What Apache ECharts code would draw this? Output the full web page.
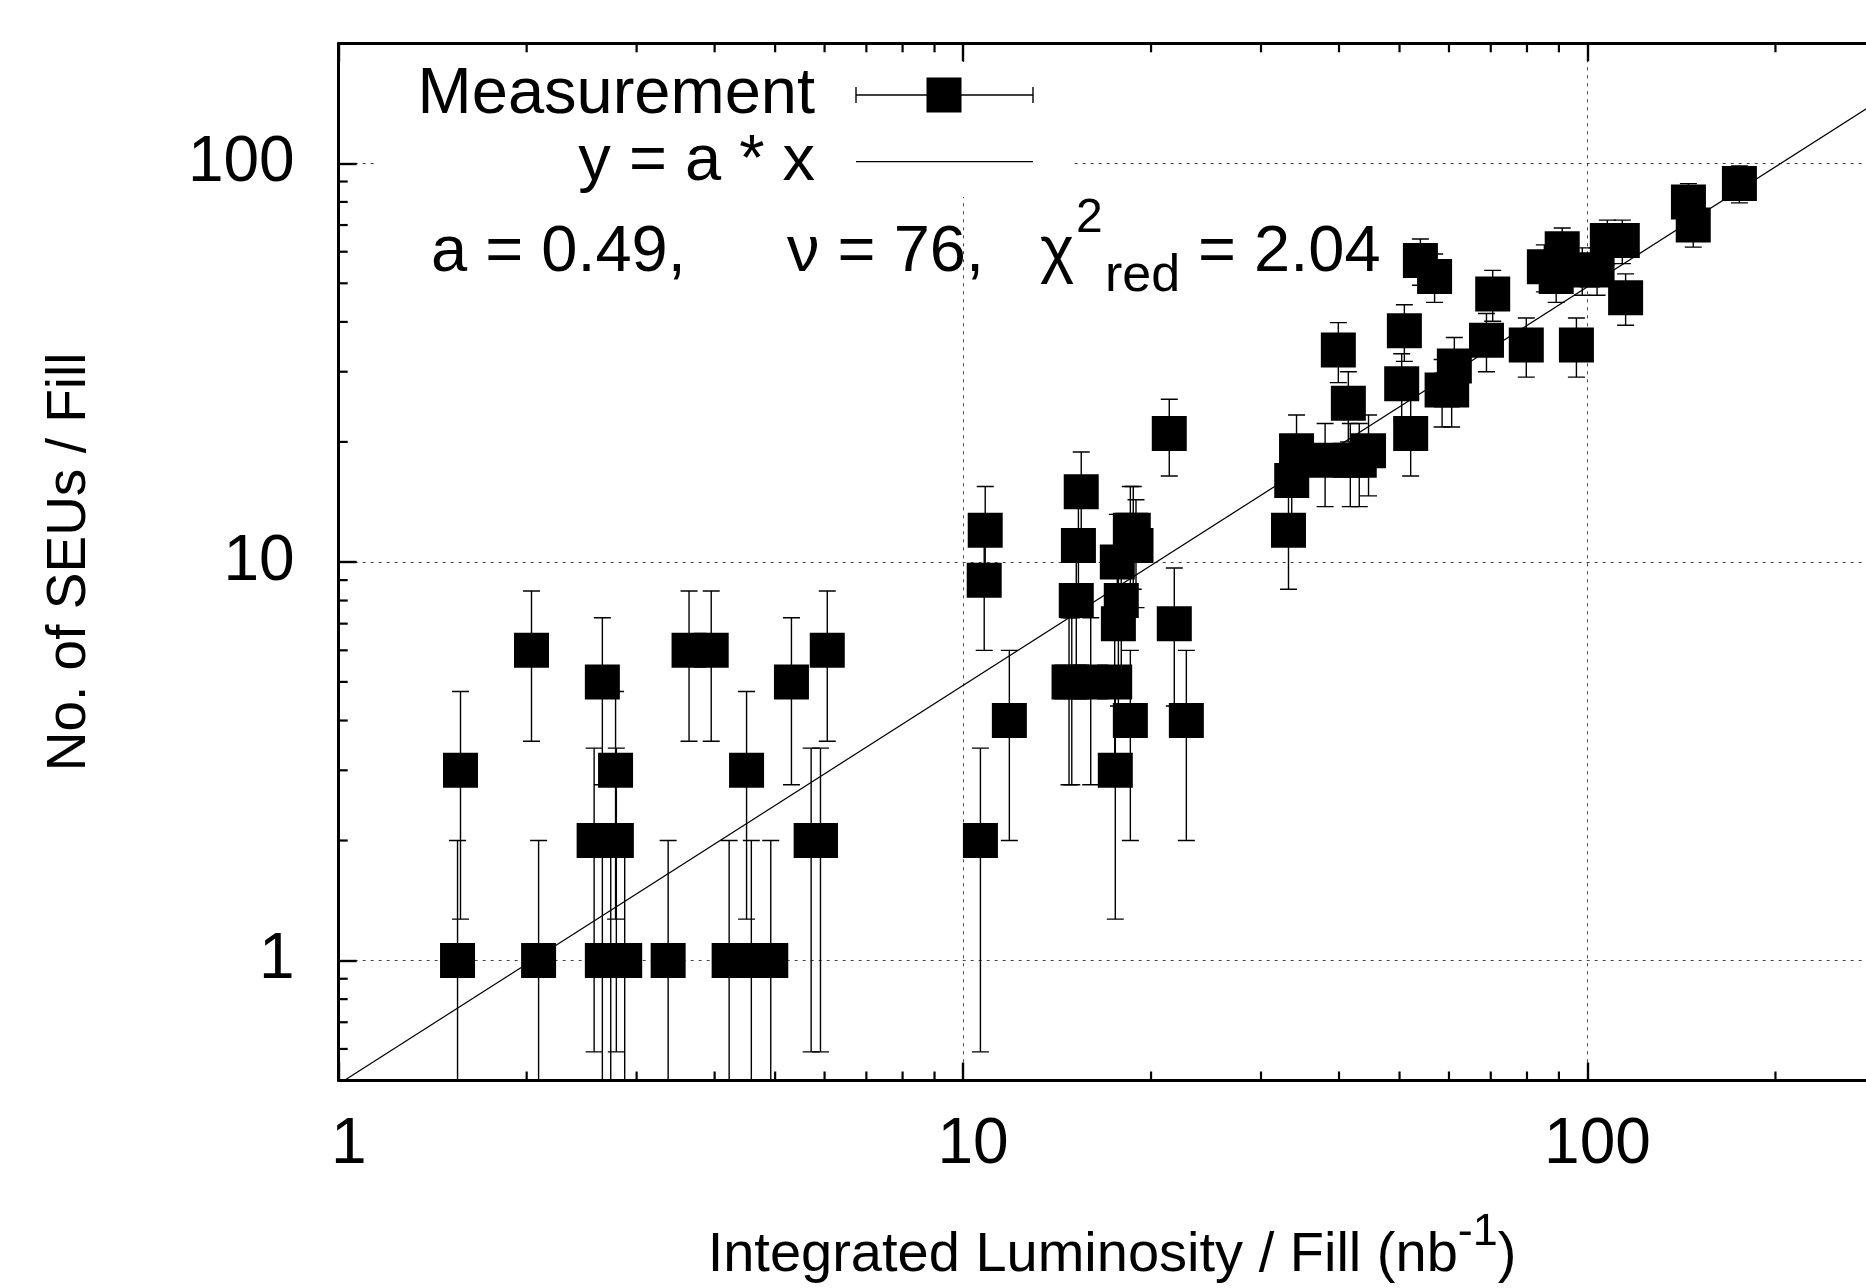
<!DOCTYPE html>
<html><head><meta charset="utf-8">
<script src="https://cdn.jsdelivr.net/npm/echarts@6/dist/echarts.min.js"></script>
<style>html,body{margin:0;padding:0;background:#fff}#c{width:1866px;height:1288px}</style>
</head><body><div id="c"></div>
<script>
// ---- data ----
const lumi = [1.55,1.567,2.036,2.09,2.565,2.644,2.644,2.727,2.776,2.784,2.871,3.37,3.64,3.95,4.22,4.50,4.58,4.92,5.31,5.71,5.91,6.06,
  10.66,10.81,10.85,11.86,14.78,14.93,15.18,15.3,15.46,16.01,17.49,17.53,17.66,17.73,17.92,18.53,18.53,18.73,18.92,21.39,21.79,22.78,
  33.2,33.6,34.2,38.0,39.9,41.4,41.7,43.1,44.6,50.4,50.9,52.1,54.0,56.9,58.5,60.6,61.2,68.9,70.5,79.8,85.3,89.1,91.1,96.0,98.1,103.6,107.6,113.7,115.1,145.1,147.7,175.1];
const seus = [1,3,6,1,2,5,1,1,3,2,1,1,6,6,1,3,1,1,5,2,2,6,
  2,9,12,4,5,5,8,11,15,5,5,3,10,7,8,4,12,12,11,21,7,4,
  12,16,19,18,34,25,18,18,19,28,38,21,57,52,27,27,31,36,47,35,55,52,61,35,54,54,64,64,46,80,70,89];
const seuErr = [1,1.73,2.45,1,1.41,2.24,1,1,1.73,1.41,1,1,2.45,2.45,1,1.73,1,1,2.24,1.41,1.41,2.45,
  1.41,3,3.46,2,2.24,2.24,2.83,3.32,3.87,2.24,2.24,1.73,3.16,2.65,2.83,2,3.46,3.46,3.32,4.58,2.65,2,
  3.46,4,4.36,4.24,5.83,5,4.24,4.24,4.36,5.29,6.16,4.58,7.55,7.21,5.2,5.2,5.57,6,6.86,5.92,7.42,7.21,7.81,5.92,7.35,7.35,8,8,6.78,8.94,8.37,9.43];
const fitA = 0.49;
const fitRange = [1, 300];
const xRange = [1, 300];
const yRange = [0.5, 200];
const xMinorTicks = [2,3,4,5,6,7,8,9,20,30,40,50,60,70,80,90,200];
const yMinorTicks = [0.6,0.7,0.8,0.9,2,3,4,5,6,7,8,9,20,30,40,50,60,70,80,90];

const FONT = 'Liberation Sans, Arial, sans-serif';
const points = lumi.map((x, i) => [x, seus[i], seuErr[i]]);
const fitLine = fitRange.map(x => [x, fitA * x]);

function errRender(params, api) {
  const x = api.value(0), y = api.value(1), e = api.value(2);
  const cs = params.coordSys;
  const yBottom = cs.y + cs.height;
  const px = api.coord([x, y])[0];
  const hiY = api.coord([x, y + e])[1];
  const lo = y - e;
  const hasLo = lo >= yRange[0];
  const loY = hasLo ? api.coord([x, lo])[1] : yBottom;
  const w = 8.5;
  const st = {stroke: '#000', lineWidth: 1.4, fill: null};
  const ch = [
    {type: 'line', shape: {x1: px, y1: hiY, x2: px, y2: loY}, style: st},
    {type: 'line', shape: {x1: px - w, y1: hiY, x2: px + w, y2: hiY}, style: st}
  ];
  if (hasLo) ch.push({type: 'line', shape: {x1: px - w, y1: loY, x2: px + w, y2: loY}, style: st});
  return {type: 'group', children: ch};
}
function xTickRender(params, api) {
  const cs = params.coordSys;
  const px = api.coord([api.value(0), api.value(1)])[0];
  const st = {stroke: '#000', lineWidth: 2.2};
  return {type: 'group', children: [
    {type: 'line', shape: {x1: px, y1: cs.y + cs.height, x2: px, y2: cs.y + cs.height - 9}, style: st},
    {type: 'line', shape: {x1: px, y1: cs.y, x2: px, y2: cs.y + 9}, style: st}
  ]};
}
function yTickRender(params, api) {
  const cs = params.coordSys;
  const py = api.coord([api.value(0), api.value(1)])[1];
  const st = {stroke: '#000', lineWidth: 2.2};
  return {type: 'line', shape: {x1: cs.x, y1: py, x2: cs.x + 9, y2: py}, style: st};
}

const gridLine = {show: true, lineStyle: {color: '#444', width: 1, type: [3, 5]}};
const chart = echarts.init(document.getElementById('c'), null, {renderer: 'canvas'});
chart.setOption({
  animation: false,
  backgroundColor: '#fff',
  grid: {left: 338.7, top: 43.3, bottom: 207.5, right: -19.4, containLabel: false, outerBoundsMode: 'none'},
  xAxis: [{
    type: 'log', logBase: 10, min: xRange[0], max: xRange[1], position: 'bottom',
    axisLine: {show: true, onZero: false, lineStyle: {color: '#000', width: 3}},
    axisTick: {show: true, inside: true, length: 18, lineStyle: {color: '#000', width: 2.4}},
    minorTick: {show: false},
    splitLine: gridLine,
    axisLabel: {show: true, color: '#000', fontSize: 64, fontFamily: FONT, margin: 33, padding: [0, 0, 0, 20], showMaxLabel: false},
    name: '{m|Integrated Luminosity / Fill (nb}{s|-1}{m|)}',
    nameLocation: 'middle', nameGap: 130,
    nameTextStyle: {color: '#000', fontFamily: FONT, fontSize: 56,
      rich: {m: {fontSize: 56, fontFamily: FONT, color: '#000'},
             s: {fontSize: 45, fontFamily: FONT, color: '#000', padding: [0, 0, 46, 0]}}}
  }, {
    type: 'log', logBase: 10, min: xRange[0], max: xRange[1], position: 'top',
    axisLine: {show: true, onZero: false, lineStyle: {color: '#000', width: 3}},
    axisTick: {show: true, inside: true, length: 18, lineStyle: {color: '#000', width: 2.4}},
    splitLine: {show: false}, axisLabel: {show: false}
  }],
  yAxis: [{
    type: 'log', logBase: 10, min: yRange[0], max: yRange[1],
    axisLine: {show: true, onZero: false, lineStyle: {color: '#000', width: 3}},
    axisTick: {show: true, inside: true, length: 18, lineStyle: {color: '#000', width: 2.4}},
    splitLine: gridLine,
    axisLabel: {show: true, color: '#000', fontSize: 64, fontFamily: FONT, margin: 44, showMinLabel: false, showMaxLabel: false},
    name: 'No. of SEUs / Fill', nameLocation: 'middle', nameRotate: 90, nameGap: 241,
    nameTextStyle: {color: '#000', fontFamily: FONT, fontSize: 55}
  }],
  graphic: [
    {type: 'rect', z: 1, silent: true, shape: {x: 376, y: 62, width: 696, height: 135}, style: {fill: '#fff'}},
    {type: 'text', z: 10, x: 815, y: 95, style: {text: 'Measurement', fontSize: 65, fontFamily: FONT, fill: '#000', align: 'right', verticalAlign: 'middle'}},
    {type: 'line', z: 10, shape: {x1: 856, y1: 95, x2: 1033, y2: 95}, style: {stroke: '#000', lineWidth: 1.4}},
    {type: 'line', z: 10, shape: {x1: 856, y1: 87, x2: 856, y2: 103}, style: {stroke: '#000', lineWidth: 1.4}},
    {type: 'line', z: 10, shape: {x1: 1033, y1: 87, x2: 1033, y2: 103}, style: {stroke: '#000', lineWidth: 1.4}},
    {type: 'rect', z: 10, shape: {x: 926.5, y: 77.5, width: 35, height: 35}, style: {fill: '#000'}},
    {type: 'text', z: 10, x: 815, y: 162.5, style: {text: 'y = a * x', fontSize: 65, fontFamily: FONT, fill: '#000', align: 'right', verticalAlign: 'middle'}},
    {type: 'line', z: 10, shape: {x1: 856, y1: 161.7, x2: 1033, y2: 161.7}, style: {stroke: '#000', lineWidth: 1.2}},
    {type: 'text', z: 10, x: 431, y: 253.5, style: {text: 'a = 0.49,', fontSize: 65, fontFamily: FONT, fill: '#000', align: 'left', verticalAlign: 'middle'}},
    {type: 'text', z: 10, x: 984, y: 253.5, style: {text: 'ν = 76,', fontSize: 65, fontFamily: FONT, fill: '#000', align: 'right', verticalAlign: 'middle'}},
    {type: 'text', z: 10, x: 1040, y: 253.5, style: {text: 'χ', fontSize: 65, fontFamily: FONT, fill: '#000', align: 'left', verticalAlign: 'middle'}},
    {type: 'text', z: 10, x: 1076, y: 218.4, style: {text: '2', fontSize: 48, fontFamily: FONT, fill: '#000', align: 'left', verticalAlign: 'middle'}},
    {type: 'text', z: 10, x: 1105, y: 277, style: {text: 'red', fontSize: 52, fontFamily: FONT, fill: '#000', align: 'left', verticalAlign: 'middle'}},
    {type: 'text', z: 10, x: 1198, y: 253.5, style: {text: '= 2.04', fontSize: 65, fontFamily: FONT, fill: '#000', align: 'left', verticalAlign: 'middle'}}
  ],
  series: [
    {type: 'custom', name: 'xminor', renderItem: xTickRender, data: xMinorTicks.map(v => [v, yRange[0]]), clip: false, silent: true, z: 2},
    {type: 'custom', name: 'yminor', renderItem: yTickRender, data: yMinorTicks.map(v => [xRange[0], v]), clip: false, silent: true, z: 2},
    {type: 'line', name: 'y = a * x', data: fitLine, showSymbol: false, symbol: 'none', clip: true,
      lineStyle: {color: '#000', width: 1.2}, z: 3},
    {type: 'custom', name: 'Measurement errors', renderItem: errRender, data: points, clip: true, z: 4,
      encode: {x: 0, y: 1}},
    {type: 'scatter', name: 'Measurement', data: points.map(p => [p[0], p[1]]), symbol: 'rect', symbolSize: 35,
      itemStyle: {color: '#000', opacity: 1}, z: 5, clip: true}
  ]
});
</script></body></html>
